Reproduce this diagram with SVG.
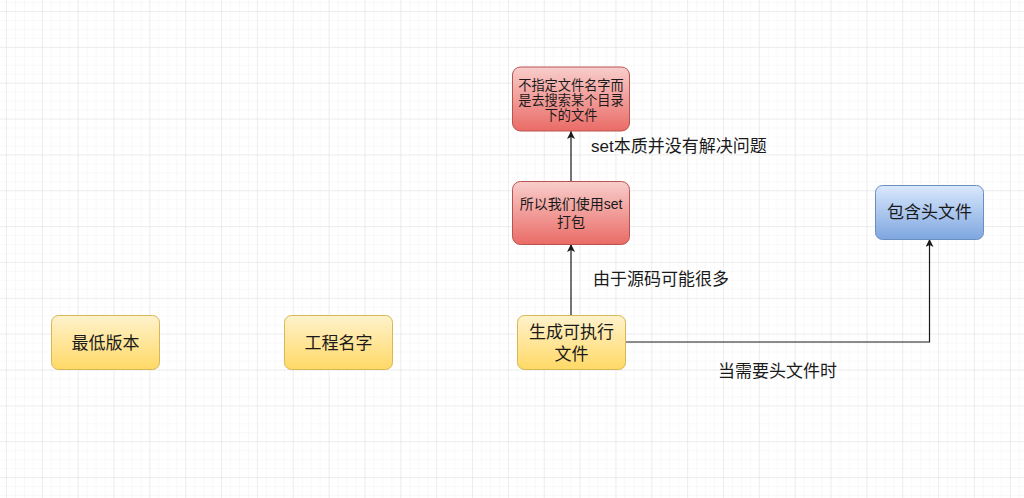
<svg xmlns="http://www.w3.org/2000/svg" width="1024" height="498" viewBox="0 0 1024 498">
<defs>
<pattern id="minor" x="6" y="11" width="8.9625" height="8.9625" patternUnits="userSpaceOnUse">
<path d="M0 0 H8.9625 M0 0 V8.9625" stroke="#f3f3f3" stroke-width="1" fill="none"/>
</pattern>
<pattern id="major" x="6" y="11" width="35.85" height="35.85" patternUnits="userSpaceOnUse">
<path d="M0 0 H35.85 M0 0 V35.85" stroke="#e2e2e2" stroke-width="1" fill="none"/>
</pattern>
<linearGradient id="gy" x1="0" y1="0" x2="0" y2="1"><stop offset="0" stop-color="#fff2cc"/><stop offset="1" stop-color="#ffd966"/></linearGradient>
<linearGradient id="gr" x1="0" y1="0" x2="0" y2="1"><stop offset="0" stop-color="#f8cecc"/><stop offset="1" stop-color="#ea6b66"/></linearGradient>
<linearGradient id="gb" x1="0" y1="0" x2="0" y2="1"><stop offset="0" stop-color="#dae8fc"/><stop offset="1" stop-color="#7ea6e0"/></linearGradient>
<marker id="arr" viewBox="0 0 10 10" refX="10" refY="5" markerWidth="8" markerHeight="8" markerUnits="userSpaceOnUse" orient="auto">
<path d="M0 0 L10 5 L0 10 L2.5 5 Z" fill="#1a1a1a"/>
</marker>
<style>
text{font-family:"Liberation Sans","Noto Sans CJK SC",sans-serif;fill:#1a1a1a;dominant-baseline:central}
.n{text-anchor:middle;font-size:17px}
.s{text-anchor:middle;font-size:13.2px}
.l{font-size:17px}
.y{fill:url(#gy);stroke:#d6b656;stroke-width:1}
.r{fill:url(#gr);stroke:#b85450;stroke-width:1}
.b{fill:url(#gb);stroke:#6c8ebf;stroke-width:1}
.e{fill:none;stroke:#1a1a1a;stroke-width:1.2}
</style>
</defs>
<rect width="1024" height="498" fill="#ffffff"/>
<rect width="1024" height="498" fill="url(#minor)"/>
<rect width="1024" height="498" fill="url(#major)"/>
<g id="edges">
<path class="e" d="M571 315 V244" marker-end="url(#arr)"/>
<path class="e" d="M571 182 V131" marker-end="url(#arr)"/>
<path class="e" d="M625 342 H929.5 V239" marker-end="url(#arr)"/>
<text class="l" x="591" y="146">set本质并没有解决问题</text>
<text class="l" x="593" y="279">由于源码可能很多</text>
<text class="l" x="718" y="371">当需要头文件时</text>
</g>
<g id="n1"><rect class="y" x="51.5" y="315.5" width="108" height="54" rx="7"/><text class="n" x="105.5" y="343">最低版本</text></g>
<g id="n2"><rect class="y" x="284.5" y="315.5" width="108" height="54" rx="7"/><text class="n" x="338.5" y="343">工程名字</text></g>
<g id="n3"><rect class="y" x="517.5" y="315.5" width="108" height="54" rx="7"/><text class="n" x="571.5" y="332">生成可执行</text><text class="n" x="571.5" y="354">文件</text></g>
<g id="n4"><rect class="r" x="512.5" y="181.5" width="117" height="63" rx="8"/><text class="s" x="571" y="204" style="font-size:14px">所以我们使用set</text><text class="s" x="571" y="222" style="font-size:14px">打包</text></g>
<g id="n5"><rect class="r" x="512.5" y="67" width="117" height="64" rx="8"/><text class="s" x="571" y="85">不指定文件名字而</text><text class="s" x="571" y="100">是去搜索某个目录</text><text class="s" x="571" y="115">下的文件</text></g>
<g id="n6"><rect class="b" x="875.5" y="185.5" width="108" height="54" rx="7"/><text class="n" x="929.5" y="212">包含头文件</text></g>
</svg>
